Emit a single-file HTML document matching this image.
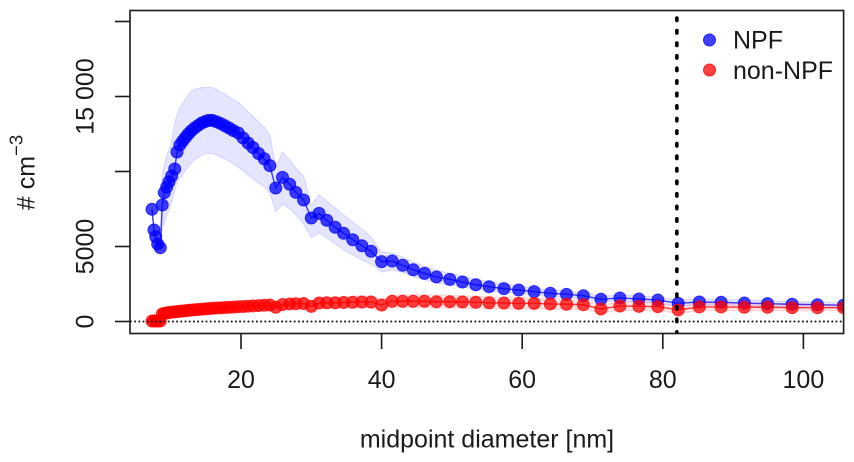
<!DOCTYPE html>
<html lang="en">
<head>
<meta charset="utf-8">
<title>Particle number size distribution</title>
<style>
html,body{margin:0;padding:0;background:#fff;width:854px;height:462px;overflow:hidden}
svg{display:block}
text{font-family:"Liberation Sans",sans-serif;font-size:25px;fill:#1a1a1a}
</style>
</head>
<body>
<svg id="chart" xmlns="http://www.w3.org/2000/svg" width="854" height="462" viewBox="0 0 854 462">
  <defs><clipPath id="plot-clip"><rect x="130" y="10" width="714" height="323.5"/></clipPath></defs>
  <g id="plot" clip-path="url(#plot-clip)"></g>
  <rect x="130" y="10.5" width="713.6" height="323" fill="none" stroke="#1a1a1a" stroke-width="1.6"/>
  <g id="axes"></g>
  <text x="487" y="447.5" text-anchor="middle">midpoint diameter [nm]</text>
  <text transform="translate(34.5 172.5) rotate(-90)" text-anchor="middle">
    <tspan># cm</tspan><tspan dy="-12" font-size="18.5" style="font-size:18.5px">−3</tspan>
  </text>
  <g>
    <circle cx="709.5" cy="40" r="6" fill="#0000ff" fill-opacity="0.75" stroke="#0000ff" stroke-opacity="0.75" stroke-width="1"/>
    <text x="733" y="48.7">NPF</text>
    <circle cx="709.5" cy="70" r="6" fill="#ff0000" fill-opacity="0.75" stroke="#ff0000" stroke-opacity="0.75" stroke-width="1"/>
    <text x="733" y="79">non-NPF</text>
  </g>
</svg>
<script>
const diameters = [7.34,7.62,7.87,8.15,8.52,8.8,9.09,9.43,9.76,10.14,10.57,10.9,11.3,11.7,12.1,12.5,12.9,13.4,13.9,14.4,14.9,15.4,15.9,16.5,17.1,17.7,18.3,18.9,19.6,20.3,21,21.7,22.5,23.3,24.1,24.94,25.9,26.93,27.8,28.9,30,31.1,32.2,33.4,34.6,35.9,37.2,38.5,40,41.5,43,44.5,46.1,47.8,49.7,51.5,53.4,55.3,57.4,59.5,61.7,64,66.3,68.7,71.2,73.9,76.6,79.3,82.2,85.2,88.3,91.6,94.9,98.4,102,105.7];
const npfMean = [7480,6100,5650,5170,4920,7770,8590,8970,9320,9700,10170,11300,11770,12030,12270,12500,12700,12900,13070,13230,13330,13410,13410,13320,13200,13050,12900,12730,12570,12230,11900,11600,11200,10850,10390,8900,9610,9150,8610,8100,6900,7210,6750,6280,5880,5450,5050,4680,3990,4030,3750,3450,3210,2970,2810,2630,2450,2320,2190,2100,1990,1880,1810,1720,1480,1570,1500,1430,1210,1300,1280,1230,1190,1150,1120,1080];
const npfUpper = [7600,6200,5750,5270,5020,9900,10430,11100,11430,12100,13300,13770,14230,14570,14830,15100,15370,15470,15530,15600,15610,15610,15600,15500,15300,15170,14970,14800,14630,14300,13970,13700,13300,12970,12430,10300,11300,10770,10230,9700,7770,8450,8030,7570,7100,6630,6170,5630,4630,4570,4300,3970,3700,3430,3230,3030,2830,2670,2500,2370,2230,2100,2030,1930,1700,1770,1700,1630,1430,1500,1470,1430,1370,1330,1300,1270];
const npfLower = [7360,6000,5550,5070,4820,6100,6570,7030,7430,7960,8770,9300,9570,9770,10100,10300,10570,10770,10930,11070,11170,11200,11200,11100,10970,10830,10700,10500,10300,10030,9770,9500,9230,8970,8570,7300,7830,7500,7100,6500,5590,5900,5570,5170,4770,4430,4100,3830,3300,3430,3270,3000,2770,2570,2430,2300,2170,2030,1930,1870,1770,1700,1630,1530,1300,1370,1300,1230,1030,1100,1100,1030,1000,970,930,900];
const nonNpfMean = [30,30,40,30,30,500,540,570,600,620,640,660,680,700,720,740,760,780,800,820,840,860,880,900,910,930,950,960,980,1000,1020,1040,1060,1080,1100,950,1130,1170,1180,1200,1010,1230,1250,1250,1270,1280,1300,1300,1100,1350,1350,1350,1350,1320,1320,1300,1280,1250,1230,1210,1210,1170,1150,1120,830,1030,1010,990,770,970,970,950,950,920,920,920];
const nonNpfUpper = [40,40,50,40,40,570,610,650,680,710,730,760,790,810,840,860,890,920,940,970,1000,1020,1050,1080,1090,1120,1150,1170,1200,1230,1260,1290,1320,1350,1380,1200,1420,1480,1500,1530,1300,1580,1610,1620,1650,1670,1700,1710,1450,1770,1780,1780,1780,1750,1750,1720,1690,1650,1620,1590,1580,1520,1490,1450,1080,1320,1290,1260,1000,1220,1220,1190,1180,1140,1130,1120];
const nonNpfLower = [20,20,30,20,20,430,470,490,520,530,550,560,570,590,600,620,630,640,660,670,680,700,710,720,730,740,750,750,760,770,780,790,800,810,820,700,840,860,860,870,720,880,890,880,890,890,900,890,750,930,920,920,920,890,890,880,870,850,840,830,840,820,810,790,580,740,730,720,540,720,720,710,720,700,710,720];
const xTickValues = [20,40,60,80,100];
const yTickValues = [0,5000,10000,15000,20000];
const yTickLabels = {0:'0',5000:'5000',15000:'15 000'};
const cutoffDiameter = 82;
const zeroLevel = 0;

const NS = 'http://www.w3.org/2000/svg';
const xScale = d => 241 + (d - 20) * 7.03;
const yScale = v => 321.5 - v * 0.015;
const plot = document.getElementById('plot');
const axes = document.getElementById('axes');

function make(tag, parent, attrs) {
  const el = document.createElementNS(NS, tag);
  for (const k in attrs) el.setAttribute(k, attrs[k]);
  parent.appendChild(el);
  return el;
}

function drawSeries(name, color, mean, lower, upper) {
  const group = make('g', plot, {});
  
  
  const upperPts = diameters.map((d, i) => xScale(d) + ',' + yScale(upper[i]));
  const lowerPts = diameters.map((d, i) => xScale(d) + ',' + yScale(lower[i])).reverse();
  const band = make('polygon', group, {points: upperPts.concat(lowerPts).join(' '), fill: color, 'fill-opacity': 0.1, stroke: color, 'stroke-opacity': 0.1, 'stroke-width': 1.2});
  
  
  const line = make('polyline', group, {points: diameters.map((d, i) => xScale(d) + ',' + yScale(mean[i])).join(' '), fill: 'none', stroke: color, 'stroke-opacity': 0.75, 'stroke-width': 1.4});
  
  
  diameters.forEach((d, i) => {
    const pt = make('circle', group, {cx: xScale(d), cy: yScale(mean[i]), r: 6, fill: color, 'fill-opacity': 0.75, stroke: color, 'stroke-opacity': 0.75, 'stroke-width': 1});
    
    
  });
}

drawSeries('npf', '#0000ff', npfMean, npfLower, npfUpper);
drawSeries('non-npf', '#ff0000', nonNpfMean, nonNpfLower, nonNpfUpper);

const zeroLine = make('line', plot, {x1: 130, x2: 844, y1: yScale(zeroLevel), y2: yScale(zeroLevel), stroke: '#111', 'stroke-width': 1.8, 'stroke-dasharray': '1.8 2.4'});



const cutoffLine = make('line', plot, {x1: xScale(cutoffDiameter), x2: xScale(cutoffDiameter), y1: 18, y2: 334, stroke: '#000', 'stroke-width': 3.6, 'stroke-linecap': 'round', 'stroke-dasharray': '2.4 10.15'});



xTickValues.forEach(v => {
  const tick = make('line', axes, {x1: xScale(v), x2: xScale(v), y1: 333.5, y2: 349, stroke: '#1a1a1a', 'stroke-width': 1.6});
  
  
  const label = make('text', axes, {x: xScale(v), y: 388, 'text-anchor': 'middle'});
  
  
  label.textContent = String(v);
});

yTickValues.forEach(v => {
  const tick = make('line', axes, {x1: 115, x2: 130, y1: yScale(v), y2: yScale(v), stroke: '#1a1a1a', 'stroke-width': 1.6});
  
  
  if (yTickLabels[v]) {
    const label = make('text', axes, {transform: 'translate(93.5 ' + yScale(v) + ') rotate(-90)', 'text-anchor': 'middle'});
    
    
    label.textContent = yTickLabels[v];
  }
});
</script>
</body>
</html>
